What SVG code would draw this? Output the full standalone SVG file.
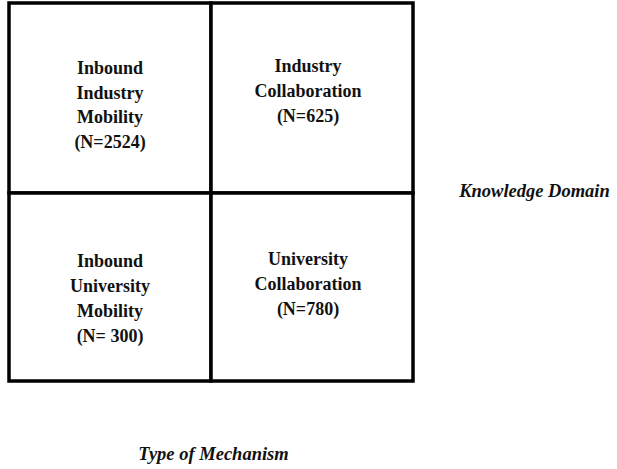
<svg xmlns="http://www.w3.org/2000/svg" width="617" height="469" viewBox="0 0 617 469">
<style>
.cell{fill:#fff;stroke:#000;stroke-width:3.5}
.t{font-family:"Liberation Serif","Times New Roman",serif;font-weight:bold;font-size:18px;fill:#111;text-anchor:middle}
.ax{font-family:"Liberation Serif","Times New Roman",serif;font-weight:bold;font-style:italic;font-size:18.5px;fill:#111;text-anchor:middle}
</style>
<rect width="617" height="469" fill="#fff"/>
<g id="inbound-industry-mobility">
<rect class="cell" x="9" y="3" width="202" height="190"/>
<text class="t" x="110" y="74">Inbound</text>
<text class="t" x="110" y="98.5">Industry</text>
<text class="t" x="110" y="123">Mobility</text>
<text class="t" x="110" y="147.5">(N=2524)</text>
</g>
<g id="industry-collaboration">
<rect class="cell" x="211" y="3" width="202" height="190"/>
<text class="t" x="308" y="72">Industry</text>
<text class="t" x="308" y="97">Collaboration</text>
<text class="t" x="308" y="122">(N=625)</text>
</g>
<g id="inbound-university-mobility">
<rect class="cell" x="9" y="193" width="202" height="188"/>
<text class="t" x="110" y="267">Inbound</text>
<text class="t" x="110" y="292">University</text>
<text class="t" x="110" y="317">Mobility</text>
<text class="t" x="110" y="342">(N= 300)</text>
</g>
<g id="university-collaboration">
<rect class="cell" x="211" y="193" width="202" height="188"/>
<text class="t" x="308" y="265">University</text>
<text class="t" x="308" y="290">Collaboration</text>
<text class="t" x="308" y="315">(N=780)</text>
</g>
<g id="connectors"></g>
<g id="knowledge-domain">
<text class="ax" x="534.5" y="197">Knowledge Domain</text>
</g>
<g id="type-of-mechanism">
<text class="ax" x="213.5" y="460">Type of Mechanism</text>
</g>
</svg>
